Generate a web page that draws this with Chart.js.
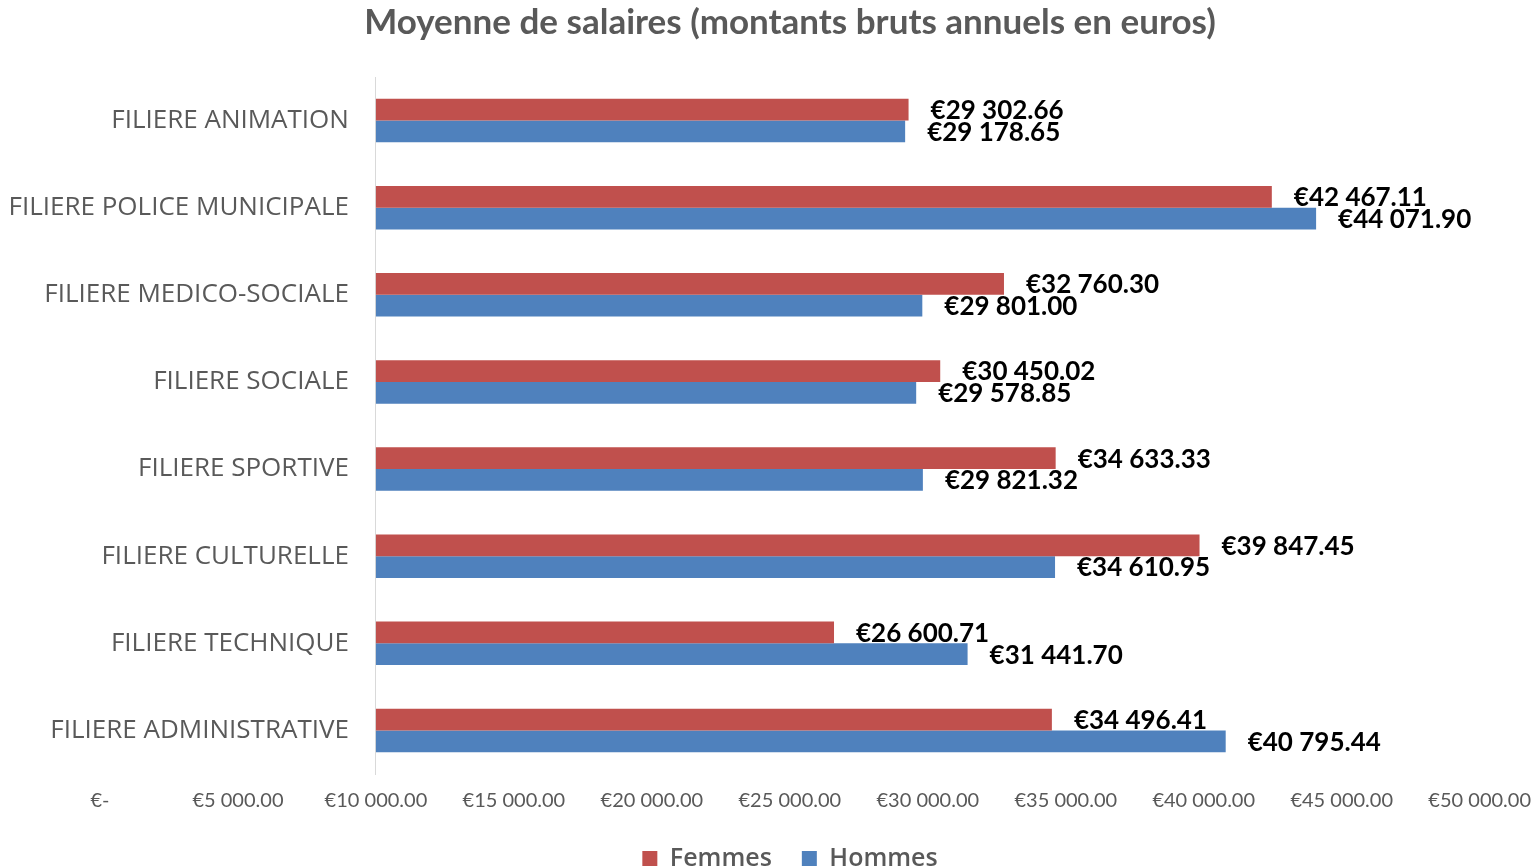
<!DOCTYPE html>
<html>
<head>
<meta charset="utf-8">
<script src="https://cdn.jsdelivr.net/npm/chart.js@4"></script>
<style>
  html, body { margin: 0; padding: 0; background: #fff; }
  #wrap { width: 1534px; height: 867px; position: relative; }
</style>
</head>
<body>
<div id="wrap"><canvas id="salaryChart"></canvas></div>
<script>
const filieres = [
  "FILIERE ANIMATION",
  "FILIERE POLICE MUNICIPALE",
  "FILIERE MEDICO-SOCIALE",
  "FILIERE SOCIALE",
  "FILIERE SPORTIVE",
  "FILIERE CULTURELLE",
  "FILIERE TECHNIQUE",
  "FILIERE ADMINISTRATIVE"
];
const femmes = [29302.66, 42467.11, 32760.30, 30450.02, 34633.33, 39847.45, 26600.71, 34496.41];
const hommes = [29178.65, 44071.90, 29801.00, 29578.85, 29821.32, 34610.95, 31441.70, 40795.44];
const axisMin = 0;
const axisMax = 50000;
const axisStep = 5000;
const axisCross = 10000;

const grey = "#595959";

function euro(v) {
  if (v === 0) return "€-";
  const parts = v.toFixed(2).split(".");
  const intPart = parts[0].replace(/\B(?=(\d{3})+(?!\d))/g, " ");
  return "€" + intPart + "." + parts[1];
}

// value labels at the end of each bar
const barLabels = {
  id: "barLabels",
  afterDatasetsDraw(chart) {
    const ctx = chart.ctx;
    ctx.save();
    ctx.font = "bold 26px Lato";
    ctx.fillStyle = "#000";
    ctx.textAlign = "left";
    ctx.textBaseline = "middle";
    chart.data.datasets.forEach((ds, i) => {
      const meta = chart.getDatasetMeta(i);
      meta.data.forEach((bar, j) => {
        ctx.fillText(euro(ds.data[j]), bar.x + 22, bar.y + 1);
      });
    });
    ctx.restore();
  }
};

new Chart(document.getElementById("salaryChart"), {
  type: "bar",
  data: {
    labels: filieres,
    datasets: [
      { label: "Femmes", data: femmes, backgroundColor: "#C0504D", base: axisCross },
      { label: "Hommes", data: hommes, backgroundColor: "#4F81BD", base: axisCross }
    ]
  },
  options: {
    indexAxis: "y",
    responsive: true,
    maintainAspectRatio: false,
    animation: false,
    categoryPercentage: 0.5,
    barPercentage: 1.0,
    layout: { padding: { left: 100, right: 54, top: 2, bottom: -14 } },
    plugins: {
      title: {
        display: true,
        text: "Moyenne de salaires (montants bruts annuels en euros)",
        color: grey,
        font: { family: "Lato", size: 35, weight: "bold" },
        padding: { top: 0, bottom: 33 }
      },
      legend: {
        position: "bottom",
        labels: {
          color: grey,
          font: { family: "Open Sans", size: 25, weight: "600" },
          boxWidth: 15,
          boxHeight: 15,
          padding: 30
        }
      },
      tooltip: { enabled: false }
    },
    scales: {
      x: {
        min: axisMin,
        max: axisMax,
        grid: { display: false, drawTicks: true, tickLength: 12 },
        border: { display: false },
        ticks: {
          stepSize: axisStep,
          color: grey,
          font: { family: "Lato", size: 20 },
          padding: 3,
          maxRotation: 0,
          autoSkip: false,
          callback: (v) => euro(v)
        }
      },
      y: {
        position: { x: axisCross },
        grid: { color: "rgba(0,0,0,0)", drawTicks: false },
        border: { display: true, color: "#d9d9d9", width: 1 },
        ticks: {
          color: grey,
          font: { family: "Open Sans", size: 26 },
          // labels sit right against a value-positioned axis, so pad with spaces
          callback: (v, i) => filieres[i] + "    "
        }
      }
    }
  },
  plugins: [barLabels]
});
</script>
</body>
</html>
